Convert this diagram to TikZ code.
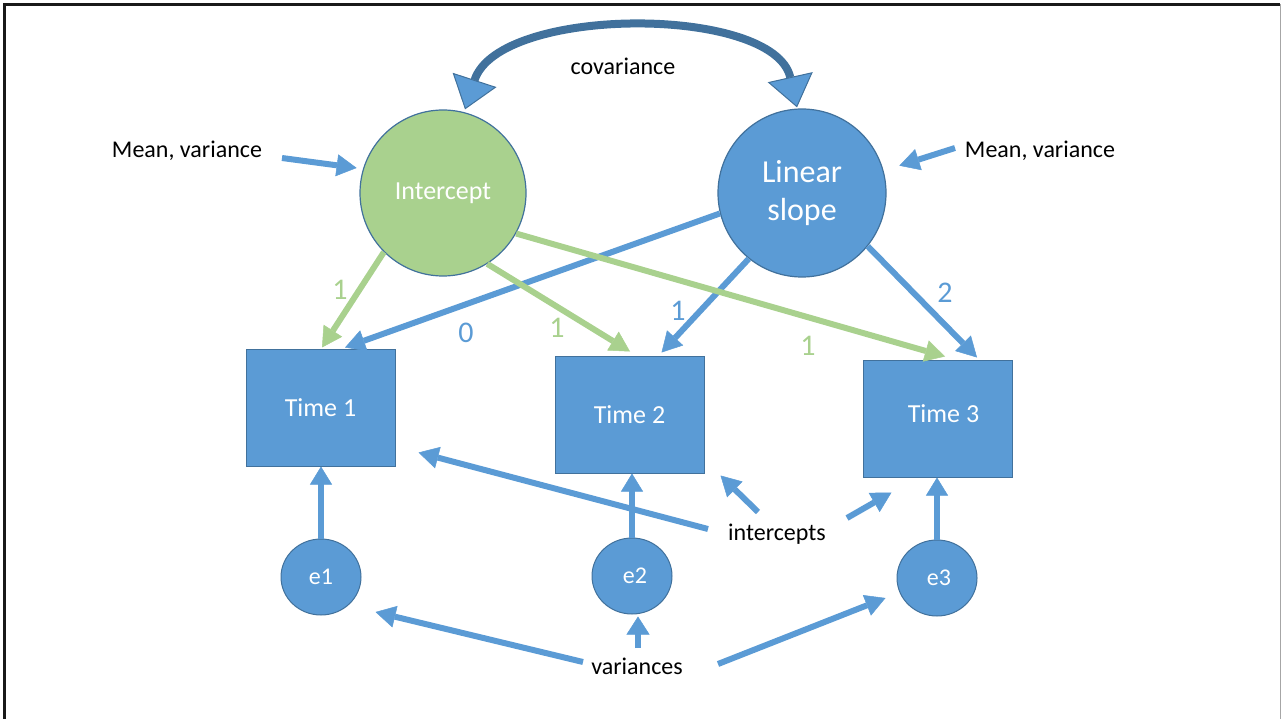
\documentclass[tikz,border=0pt]{standalone}
\usepackage{fontspec}
\setmainfont{Carlito}
\usetikzlibrary{arrows.meta,shapes.geometric}
\definecolor{sblue}{HTML}{5B9BD5}
\definecolor{sgreen}{HTML}{A9D18E}
\definecolor{sdark}{HTML}{41719C}
\begin{document}
\begin{tikzpicture}[x=1pt,y=-1pt,
  latent/.style={circle, draw=sdark, line width=1.2pt, minimum size=166pt, inner sep=0pt, text=white},
  obs/.style={rectangle, draw=sdark, line width=1pt, fill=sblue, minimum width=149pt, minimum height=117pt, text=white, font=\fontsize{26}{30}\selectfont},
  err/.style={ellipse, draw=sdark, line width=1pt, fill=sblue, minimum width=80pt, minimum height=76pt, inner sep=0pt, text=white, font=\fontsize{24}{28}\selectfont},
  lbl/.style={font=\fontsize{24}{28}\selectfont, text=black},
  coef/.style={font=\fontsize{30}{34}\selectfont},
  headtip/.tip={Triangle[length=20pt,width=22pt,line width=0.5pt]},
  barrow/.style={draw=sblue, line width=6pt, -headtip},
  garrow/.style={draw=sgreen, line width=6pt, -headtip},
  earrow/.style={draw=sblue, line width=5.5pt, -{Triangle[length=18pt,width=22pt,line width=0.5pt]}},
  covtip/.tip={Triangle[length=31pt,width=46pt,line width=1pt,fill=sblue]},
]
\useasboundingbox (0,0) rectangle (1281,719);

% page frame
\draw[line width=2.5pt, black!90] (4.5,719) -- (4.5,4.5) -- (1280,4.5);
\draw[gray!70, line width=1pt] (1280.5,4.5) -- (1280.5,719);

% latent growth factors
\node[latent, fill=sgreen, font=\fontsize{26}{30}\selectfont] (int) at (443,193) {Intercept};
\node[latent, fill=sblue, minimum size=168pt, font=\fontsize{32}{38}\selectfont, align=center] (slope) at (802,193) {Linear\\slope};

% observed measurements
\node[obs] (t1) at (320.5,407.5) {\raisebox{-3pt}{Time 1}};
\node[obs] (t2) at (629.5,414.5) {Time 2};
\node[obs] (t3) at (937.5,418.5) {\raisebox{9pt}{\hspace*{12pt}Time 3}};

% residuals
\node[err] (e1) at (321,577) {e1};
\node[err] (e2) at (632,576) {\hspace*{6pt}e2};
\node[err] (e3) at (937,578) {\hspace*{4pt}e3};

% text labels
\node[lbl] (mvl) at (187,151) {Mean, variance};
\node[lbl] (mvr) at (1040,151) {Mean, variance};
\node[lbl] (cov) at (623,66) {covariance};
\node[lbl] (icp) at (777,534) {intercepts};
\node[lbl] (var) at (637,666) {variances};

% covariance between the factors
\draw[sdark, line width=8pt, covtip-covtip]
  ([xshift=22pt]int.north) .. controls (499,5) and (774,5) .. ([xshift=-5pt,yshift=1pt]slope.north);

% means and variances of the factors
\coordinate (mvlA) at (282,158);
\coordinate (mvrA) at (955,148);
\draw[barrow] (mvlA) -- ([xshift=-6pt,yshift=2pt]int.164);
\draw[barrow] (mvrA) -- ([xshift=16pt,yshift=4pt]slope.16);

% slope loadings
\draw[barrow] (slope.194) -- ([xshift=24.5pt,yshift=1pt]t1.north);
\draw[barrow] (slope.231) -- ([xshift=32pt,yshift=3pt]t2.north);
\draw[barrow] (slope.321) -- ([xshift=39.5pt,yshift=2pt]t3.north);

% intercept loadings
\draw[garrow] (int.225) -- ([xshift=1.5pt,yshift=1pt]t1.north);
\draw[garrow] (int.302) -- ([xshift=0.5pt,yshift=4pt]t2.north);
\draw[garrow] (int.331) -- ([xshift=7.5pt,yshift=3pt]t3.north);

% loading values
\node[coef, text=sgreen] (lg1) at (340,290) {1};
\node[coef, text=sgreen] (lg2) at (557,328) {1};
\node[coef, text=sgreen] (lg3) at (808,346) {1};
\node[coef, text=sblue] (lb1) at (466,333) {0};
\node[coef, text=sblue] (lb2) at (678,311) {1};
\node[coef, text=sblue] (lb3) at (945,293) {2};

% residual paths
\draw[earrow] (e1.north) -- (e1.north |- t1.south);
\draw[earrow] (e2.north) -- (e2.north |- t2.south);
\draw[earrow] (e3.north) -- (e3.north |- t3.south);

% intercept pointers
\coordinate (icA) at (708,529);
\coordinate (icB) at (758,512);
\coordinate (icC) at (847,518);
\draw[barrow] (icA) -- ([xshift=23pt,yshift=14pt]t1.south east);
\draw[barrow] (icB) -- ([xshift=16pt,yshift=-2pt]t2.south east);
\draw[barrow] (icC) -- ([xshift=29pt,yshift=-15pt]t3.south west);

% variance pointers
\coordinate (vA) at (583,662);
\coordinate (vB) at (638,648);
\coordinate (vC) at (718,664);
\draw[barrow] (vA) -- ([xshift=14pt,yshift=-35pt]e1.east);
\draw[barrow, -{Triangle[length=18pt,width=23pt,line width=0.5pt]}] (vB) -- ([xshift=6pt,yshift=-2pt]e2.south);
\draw[barrow] (vC) -- ([xshift=-11pt,yshift=-20pt]e3.west);
\end{tikzpicture}
\end{document}
